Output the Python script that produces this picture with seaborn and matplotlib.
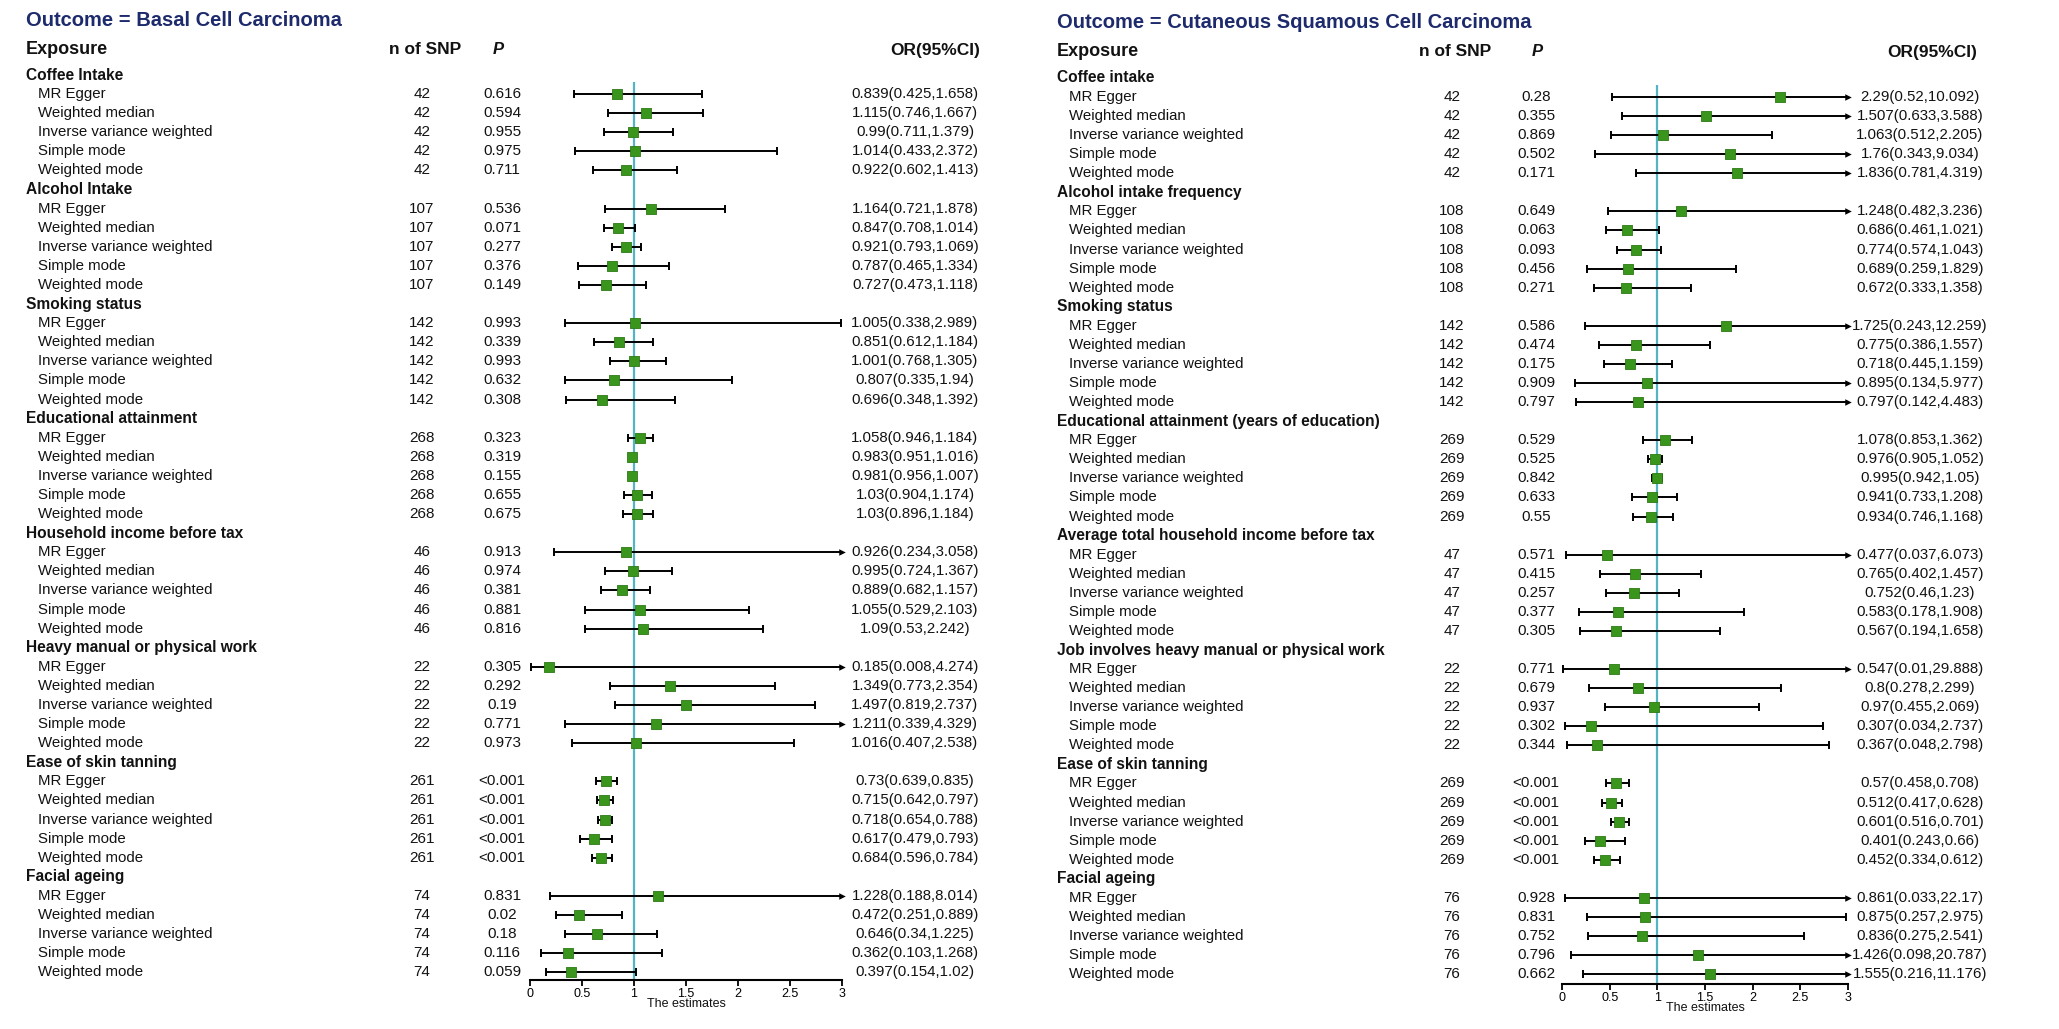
import numpy as np
import pandas as pd
import matplotlib.pyplot as plt
import matplotlib.transforms as mtransforms
import seaborn as sns

# ---- data ----
methods = ["MR Egger", "Weighted median", "Inverse variance weighted", "Simple mode", "Weighted mode"]

# basal cell carcinoma
bcc_exposures = ["Coffee Intake", "Alcohol Intake", "Smoking status", "Educational attainment",
                 "Household income before tax", "Heavy manual or physical work",
                 "Ease of skin tanning", "Facial ageing"]
bcc_nsnp = [42, 107, 142, 268, 46, 22, 261, 74]
bcc_p = ["0.616", "0.594", "0.955", "0.975", "0.711",
         "0.536", "0.071", "0.277", "0.376", "0.149",
         "0.993", "0.339", "0.993", "0.632", "0.308",
         "0.323", "0.319", "0.155", "0.655", "0.675",
         "0.913", "0.974", "0.381", "0.881", "0.816",
         "0.305", "0.292", "0.19", "0.771", "0.973",
         "<0.001", "<0.001", "<0.001", "<0.001", "<0.001",
         "0.831", "0.02", "0.18", "0.116", "0.059"]
bcc_or = [0.839, 1.115, 0.99, 1.014, 0.922,
          1.164, 0.847, 0.921, 0.787, 0.727,
          1.005, 0.851, 1.001, 0.807, 0.696,
          1.058, 0.983, 0.981, 1.03, 1.03,
          0.926, 0.995, 0.889, 1.055, 1.09,
          0.185, 1.349, 1.497, 1.211, 1.016,
          0.73, 0.715, 0.718, 0.617, 0.684,
          1.228, 0.472, 0.646, 0.362, 0.397]
bcc_lo = [0.425, 0.746, 0.711, 0.433, 0.602,
          0.721, 0.708, 0.793, 0.465, 0.473,
          0.338, 0.612, 0.768, 0.335, 0.348,
          0.946, 0.951, 0.956, 0.904, 0.896,
          0.234, 0.724, 0.682, 0.529, 0.53,
          0.008, 0.773, 0.819, 0.339, 0.407,
          0.639, 0.642, 0.654, 0.479, 0.596,
          0.188, 0.251, 0.34, 0.103, 0.154]
bcc_hi = [1.658, 1.667, 1.379, 2.372, 1.413,
          1.878, 1.014, 1.069, 1.334, 1.118,
          2.989, 1.184, 1.305, 1.94, 1.392,
          1.184, 1.016, 1.007, 1.174, 1.184,
          3.058, 1.367, 1.157, 2.103, 2.242,
          4.274, 2.354, 2.737, 4.329, 2.538,
          0.835, 0.797, 0.788, 0.793, 0.784,
          8.014, 0.889, 1.225, 1.268, 1.02]

# cutaneous squamous cell carcinoma
scc_exposures = ["Coffee intake", "Alcohol intake frequency", "Smoking status",
                 "Educational attainment (years of education)",
                 "Average total household income before tax",
                 "Job involves heavy manual or physical work",
                 "Ease of skin tanning", "Facial ageing"]
scc_nsnp = [42, 108, 142, 269, 47, 22, 269, 76]
scc_p = ["0.28", "0.355", "0.869", "0.502", "0.171",
         "0.649", "0.063", "0.093", "0.456", "0.271",
         "0.586", "0.474", "0.175", "0.909", "0.797",
         "0.529", "0.525", "0.842", "0.633", "0.55",
         "0.571", "0.415", "0.257", "0.377", "0.305",
         "0.771", "0.679", "0.937", "0.302", "0.344",
         "<0.001", "<0.001", "<0.001", "<0.001", "<0.001",
         "0.928", "0.831", "0.752", "0.796", "0.662"]
scc_or = [2.29, 1.507, 1.063, 1.76, 1.836,
          1.248, 0.686, 0.774, 0.689, 0.672,
          1.725, 0.775, 0.718, 0.895, 0.797,
          1.078, 0.976, 0.995, 0.941, 0.934,
          0.477, 0.765, 0.752, 0.583, 0.567,
          0.547, 0.8, 0.97, 0.307, 0.367,
          0.57, 0.512, 0.601, 0.401, 0.452,
          0.861, 0.875, 0.836, 1.426, 1.555]
scc_lo = [0.52, 0.633, 0.512, 0.343, 0.781,
          0.482, 0.461, 0.574, 0.259, 0.333,
          0.243, 0.386, 0.445, 0.134, 0.142,
          0.853, 0.905, 0.942, 0.733, 0.746,
          0.037, 0.402, 0.46, 0.178, 0.194,
          0.01, 0.278, 0.455, 0.034, 0.048,
          0.458, 0.417, 0.516, 0.243, 0.334,
          0.033, 0.257, 0.275, 0.098, 0.216]
scc_hi = [10.092, 3.588, 2.205, 9.034, 4.319,
          3.236, 1.021, 1.043, 1.829, 1.358,
          12.259, 1.557, 1.159, 5.977, 4.483,
          1.362, 1.052, 1.05, 1.208, 1.168,
          6.073, 1.457, 1.23, 1.908, 1.658,
          29.888, 2.299, 2.069, 2.737, 2.798,
          0.708, 0.628, 0.701, 0.66, 0.612,
          22.17, 2.975, 2.541, 20.787, 11.176]

W, H = 2059, 1029
XMAX = 3

sns.set_theme(style="white")
plt.rcParams['font.family'] = ['Liberation Sans', 'DejaVu Sans']

TXT = '#121212'
NAVY = '#1d2a6c'
GREEN = '#3a951c'
REF = '#55b4c4'


def fx(px):
    return px / W


def fy(py):
    return 1 - py / H


def build_table(exposures, nsnp, pvals, ors, los, his):
    # one group header row followed by 5 method rows per exposure
    rows = []
    k = 0
    for g, (name, n) in enumerate(zip(exposures, nsnp)):
        rows.append(dict(row=g * 6, kind="group", label=name))
        for j, m in enumerate(methods):
            rows.append(dict(row=g * 6 + j + 1, kind="method", label=m, n=n, p=pvals[k],
                             OR=ors[k], lo=los[k], hi=his[k]))
            k += 1
    return pd.DataFrame(rows)


def draw_panel(fig, df, title, lay):
    # forest axes placed in pixel layout
    x0, x3 = lay['x0'], lay['x3']
    ax = fig.add_axes([fx(x0), fy(lay['axis_y']), (x3 - x0) / W, (lay['axis_y'] - lay['top_y']) / H])
    r_bot = (lay['axis_y'] - lay['row0']) / lay['step']
    r_top = (lay['top_y'] - lay['row0']) / lay['step']
    ax.set_xlim(0, XMAX)
    ax.set_ylim(r_bot, r_top)

    m = df[df['kind'] == 'method'].copy()
    m['hi_c'] = m['hi'].clip(upper=XMAX)

    # reference line at OR = 1
    ax.axvline(1, color=REF, lw=1.6, zorder=1)

    # CI lines, caps and arrows for CIs running past the axis
    ax.hlines(m['row'], m['lo'], m['hi_c'], color='black', lw=1.4, zorder=2)
    ax.scatter(m['lo'], m['row'], marker='|', s=30, color='black', linewidths=1.4, zorder=2, clip_on=False)
    capped = m[m['hi'] <= XMAX]
    ax.scatter(capped['hi'], capped['row'], marker='|', s=30, color='black', linewidths=1.4, zorder=2, clip_on=False)
    arrows = m[m['hi'] > XMAX]
    ax.scatter(arrows['hi_c'], arrows['row'], marker='>', s=22, color='black', linewidths=0, zorder=2, clip_on=False)

    # point estimates
    sns.scatterplot(data=m, x='OR', y='row', marker='s', s=50, color=GREEN, edgecolor='#2c7a14',
                    linewidth=0.6, zorder=3, ax=ax, legend=False, clip_on=False)

    # axis styling
    for side in ['left', 'top', 'right']:
        ax.spines[side].set_visible(False)
    ax.spines['bottom'].set_linewidth(1.5)
    ax.spines['bottom'].set_color('black')
    ax.set_yticks([])
    ticks = np.arange(0, XMAX + 0.01, 0.5)
    ax.set_xticks(ticks)
    ax.set_xticklabels(['0', '0.5', '1', '1.5', '2', '2.5', '3'])
    ax.tick_params(axis='x', bottom=True, direction='out', length=4, width=1.3, labelsize=9, pad=1.5,
                   colors='black')
    ax.set_xlabel("The estimates", fontsize=9, labelpad=-1, color=TXT)
    ax.set_ylabel("")

    # text columns share row positions with the forest axes
    trans = mtransforms.blended_transform_factory(fig.transFigure, ax.transData)
    for _, r in df.iterrows():
        if r['kind'] == 'group':
            fig.text(fx(lay['grp_x']), r['row'], r['label'], transform=trans, fontsize=11.2,
                     fontweight='bold', color=TXT, va='center', ha='left')
        else:
            fig.text(fx(lay['meth_x']), r['row'], r['label'], transform=trans, fontsize=10.8,
                     color=TXT, va='center', ha='left')
            fig.text(fx(lay['n_x']), r['row'], str(int(r['n'])), transform=trans, fontsize=11,
                     color=TXT, va='center', ha='center')
            fig.text(fx(lay['p_x']), r['row'], r['p'], transform=trans, fontsize=11,
                     color=TXT, va='center', ha='center')
            lab = f"{r['OR']:g}({r['lo']:g},{r['hi']:g})"
            fig.text(fx(lay['or_x']), r['row'], lab, transform=trans, fontsize=10.8,
                     color=TXT, va='center', ha='center')

    # titles and headers
    fig.text(fx(lay['grp_x']), fy(lay['title_y']), title, fontsize=14.5, fontweight='bold',
             color=NAVY, va='center', ha='left')
    hy = fy(lay['head_y'])
    fig.text(fx(lay['grp_x']), hy, "Exposure", fontsize=13, fontweight='bold', color=TXT, va='center')
    fig.text(fx(lay['nh_x']), hy, "n of SNP", fontsize=12.5, fontweight='bold', color=TXT,
             va='center', ha='center')
    fig.text(fx(lay['ph_x']), hy, "P", fontsize=12, fontweight='bold', fontstyle='italic', color=TXT,
             va='center', ha='center')
    fig.text(fx(lay['orh_x']), hy, "OR(95%CI)", fontsize=12.5, fontweight='bold', color=TXT,
             va='center', ha='right')
    return ax


bcc = build_table(bcc_exposures, bcc_nsnp, bcc_p, bcc_or, bcc_lo, bcc_hi)
scc = build_table(scc_exposures, scc_nsnp, scc_p, scc_or, scc_lo, scc_hi)

left_layout = dict(x0=530, x3=842, row0=75, step=19.09, axis_y=980, top_y=82,
                   grp_x=26, meth_x=38, n_x=422, p_x=502, or_x=915,
                   title_y=21, head_y=50, nh_x=425, ph_x=498, orh_x=980)
right_layout = dict(x0=1562, x3=1848, row0=77.9, step=19.07, axis_y=984, top_y=85,
                    grp_x=1057, meth_x=1069, n_x=1452, p_x=1536, or_x=1920,
                    title_y=23, head_y=52, nh_x=1455, ph_x=1537, orh_x=1977)

fig = plt.figure(figsize=(W / 100, H / 100), dpi=100)
fig.patch.set_facecolor('white')

draw_panel(fig, bcc, "Outcome = Basal Cell Carcinoma", left_layout)
draw_panel(fig, scc, "Outcome = Cutaneous Squamous Cell Carcinoma", right_layout)

fig.savefig("out.png", dpi=100, facecolor='white')
